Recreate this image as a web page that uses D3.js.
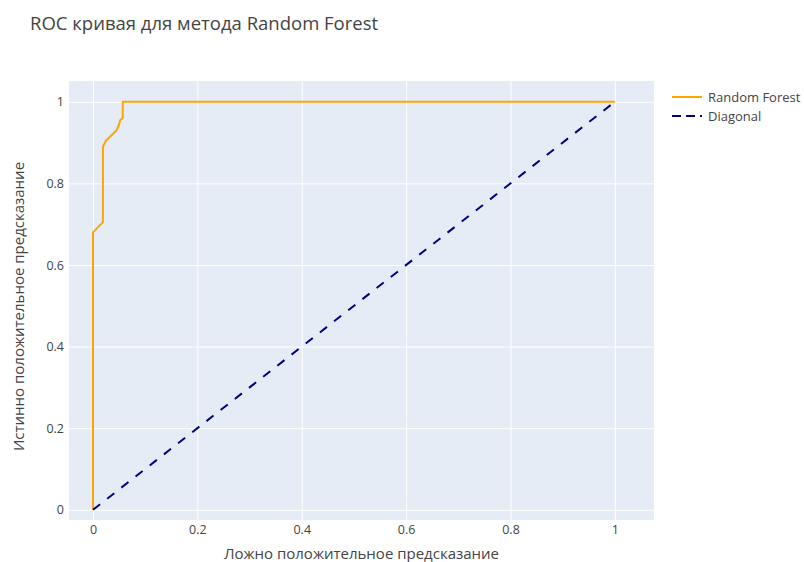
<!DOCTYPE html>
<html>
<head>
<meta charset="utf-8">
<script src="https://cdn.jsdelivr.net/npm/d3@7"></script>
<style>
	body { margin: 0; background: #fff; font-family: "Open Sans", sans-serif; }
	.grid line { stroke: #fff; stroke-width: 1; }
	.grid path { display: none; }
	.tick text { fill: #444; font-size: 12.5px; }
</style>
</head>
<body>
<div id="graphic"></div>
<script>
const fpr = [0, 0, 0.019, 0.019, 0.025, 0.033, 0.045, 0.05, 0.052, 0.057, 0.057, 1];
const tpr = [0, 0.68, 0.705, 0.89, 0.905, 0.915, 0.93, 0.945, 0.955, 0.96, 1, 1];
const diagX = [0, 1];
const diagY = [0, 1];
const tickValues = [0, 0.2, 0.4, 0.6, 0.8, 1];
const seriesNames = ['Random Forest', 'Diagonal'];
const colours = ['#FFA500', '#000080'];

const width = 804, height = 562;
const margin = { top: 81, right: 150, bottom: 42, left: 69 };
const chart_width = width - margin.left - margin.right;
const chart_height = height - margin.top - margin.bottom;

const svg = d3.select('#graphic').append('svg')
	.attr('width', width)
	.attr('height', height);

const g = svg.append('g').attr('transform', 'translate(' + margin.left + ',' + margin.top + ')');

const x = d3.scaleLinear().domain([-0.046, 1.075]).range([0, chart_width]);
const y = d3.scaleLinear().domain([-0.025, 1.051]).range([chart_height, 0]);

// background
g.append('rect')
	.attr('width', chart_width)
	.attr('height', chart_height)
	.attr('fill', '#E5ECF6');

// x gridlines + labels
g.append('g')
	.attr('class', 'grid')
	.attr('transform', 'translate(0,' + chart_height + ')')
	.call(d3.axisBottom(x).tickValues(tickValues).tickSize(-chart_height).tickPadding(5).tickFormat(d3.format('~g')))
	.selectAll('line')
	.attr('stroke-width', (d) => d === 0 ? 2 : 1);

// y gridlines + labels
g.append('g')
	.attr('class', 'grid')
	.call(d3.axisLeft(y).tickValues(tickValues).tickSize(-chart_width).tickPadding(5).tickFormat(d3.format('~g')))
	.selectAll('line')
	.attr('stroke-width', (d) => d === 0 ? 2 : 1);

g.selectAll('.grid .tick text').style('font-family', '"Open Sans", sans-serif');

const line = d3.line()
	.x((d) => x(d[0]))
	.y((d) => y(d[1]));

// roc curve
g.append('path')
	.attr('d', line(d3.zip(fpr, tpr)))
	.attr('fill', 'none')
	.attr('stroke', colours[0])
	.attr('stroke-width', 2)
	.attr('stroke-linejoin', 'round');

// diagonal
g.append('path')
	.attr('d', line(d3.zip(diagX, diagY)))
	.attr('fill', 'none')
	.attr('stroke', colours[1])
	.attr('stroke-width', 2)
	.attr('stroke-dasharray', '9,9');

// title
svg.append('text')
	.attr('x', 30)
	.attr('y', 30)
	.attr('fill', '#444')
	.style('font-size', '18.5px')
	.text('ROC кривая для метода Random Forest');

// axis titles
svg.append('text')
	.attr('x', margin.left + chart_width / 2)
	.attr('y', 559)
	.attr('text-anchor', 'middle')
	.attr('fill', '#444')
	.style('font-size', '15px')
	.text('Ложно положительное предсказание');

svg.append('text')
	.attr('transform', 'translate(24,' + (margin.top + chart_height / 2 + 6) + ') rotate(-90)')
	.attr('text-anchor', 'middle')
	.attr('fill', '#444')
	.style('font-size', '15px')
	.text('Истинно положительное  предсказание');

// legend
const legend = svg.append('g').attr('transform', 'translate(672,97)');
const item = legend.selectAll('g')
	.data(seriesNames)
	.join('g')
	.attr('transform', (d, i) => 'translate(0,' + i * 19 + ')');

item.append('line')
	.attr('x1', 0).attr('x2', 30)
	.attr('stroke', (d, i) => colours[i])
	.attr('stroke-width', 2)
	.attr('stroke-dasharray', (d, i) => i === 1 ? '9,5' : null);

item.append('text')
	.attr('x', 36)
	.attr('dy', '0.35em')
	.attr('fill', '#444')
	.style('font-size', '13px')
	.text((d) => d);
</script>
</body>
</html>
